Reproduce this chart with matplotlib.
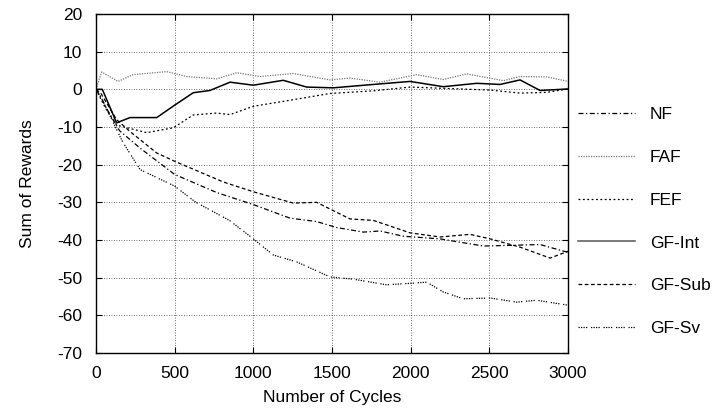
from matplotlib import pyplot as plt

plt.rcParams['font.family'] = ['Liberation Sans', 'DejaVu Sans']
plt.rcParams['font.size'] = 12.5
plt.rcParams['axes.unicode_minus'] = False

# values
nf_x = [0, 30, 80, 150, 280, 500, 767, 1000, 1233, 1402, 1530, 1700, 1805, 1953, 2186, 2462, 2653, 2822, 2992, 3000]
nf_y = [0, -2, -6, -11, -15.6, -22.6, -27.4, -30.6, -34.2, -35.1, -36.7, -37.9, -37.6, -39, -39.7, -41.6, -41.4, -41.2, -43.2, -43]

faf_x = [0, 36, 140, 235, 449, 576, 767, 894, 1042, 1254, 1487, 1614, 1805, 2038, 2207, 2356, 2589, 2695, 2865, 3000]
faf_y = [0, 4.6, 2.1, 3.9, 4.7, 3.4, 2.8, 4.4, 3.4, 4.2, 2.5, 3.0, 1.9, 3.9, 2.6, 4.1, 2.3, 3.4, 3.3, 2.1]

fef_x = [0, 60, 131, 322, 492, 618, 767, 852, 1000, 1233, 1487, 1763, 1996, 2250, 2505, 2695, 2865, 3000]
fef_y = [0, -5, -9.5, -11.5, -10.2, -6.8, -6.3, -6.7, -4.5, -2.9, -1.1, -0.4, 0.6, 0.2, -0.2, -1.0, -0.8, 0.1]

int_x = [0, 40, 131, 216, 386, 500, 618, 724, 852, 1000, 1190, 1339, 1508, 1763, 1996, 2207, 2420, 2568, 2695, 2822, 3000]
int_y = [0, 0, -8.9, -7.5, -7.5, -4.2, -0.9, -0.3, 1.9, 1.1, 2.4, 0.6, 0.4, 1.3, 2.1, 0.7, 1.6, 1.3, 2.5, -0.3, 0.1]

sub_x = [0, 30, 130, 216, 386, 500, 809, 1000, 1254, 1402, 1508, 1614, 1763, 1996, 2186, 2377, 2505, 2695, 2886, 3000]
sub_y = [0, -1, -8, -11.2, -16.9, -19.1, -24.6, -27.2, -30.2, -30.0, -32.2, -34.4, -34.8, -38.1, -39.2, -38.5, -39.7, -41.9, -44.8, -43]

sv_x = [0, 30, 100, 170, 280, 500, 635, 848, 1000, 1127, 1275, 1487, 1636, 1847, 1996, 2102, 2207, 2334, 2505, 2674, 2801, 3000]
sv_y = [0, -2, -8, -14, -21.3, -25.7, -30, -34.8, -39.7, -44, -45.8, -49.8, -50.4, -51.9, -51.5, -51.2, -53.8, -55.6, -55.4, -56.5, -56, -57.3]

fig = plt.figure(figsize=(7.24, 4.18), dpi=100)
ax = fig.add_axes([0.1326, 0.1555, 0.652, 0.811])

ax.plot(nf_x, nf_y, color='black', lw=0.9, ls=(0, (4, 2, 1, 2)), label='NF')
ax.plot(faf_x, faf_y, color='#777777', lw=0.9, ls=(0, (1, 1)), label='FAF')
ax.plot(fef_x, fef_y, color='black', lw=0.9, ls=(0, (1.5, 2)), label='FEF')
ax.plot(int_x, int_y, color='black', lw=1.1, ls='-', label='GF-Int')
ax.plot(sub_x, sub_y, color='black', lw=0.9, ls=(0, (3, 2)), label='GF-Sub')
ax.plot(sv_x, sv_y, color='black', lw=0.9, ls=(0, (1, 1, 1, 1, 1, 1, 1, 3)), label='GF-Sv')

ax.set_xlim(0, 3000)
ax.set_ylim(-70, 20)
ax.set_xticks(range(0, 3001, 500))
ax.set_yticks(range(-70, 21, 10))
ax.tick_params(direction='in', top=True, right=True, length=4, labelsize=12.5)
ax.tick_params(axis='y', pad=10)
ax.tick_params(axis='x', pad=9)
ax.grid(True, color='#444444', ls=(0, (1, 2)), lw=0.6)
for s in ax.spines.values():
    s.set_linewidth(1.0)

ax.set_xlabel('Number of Cycles', labelpad=7)
ax.set_ylabel('Sum of Rewards', labelpad=16)

lg = ax.legend(loc='upper left', bbox_to_anchor=(0.798, 0.745), bbox_transform=fig.transFigure,
               frameon=False, borderpad=0, borderaxespad=0,
               handlelength=3.3, labelspacing=1.6, handletextpad=0.85)
lg.legend_handles[3].set_color('#555555')

plt.savefig('out.png', dpi=100)
